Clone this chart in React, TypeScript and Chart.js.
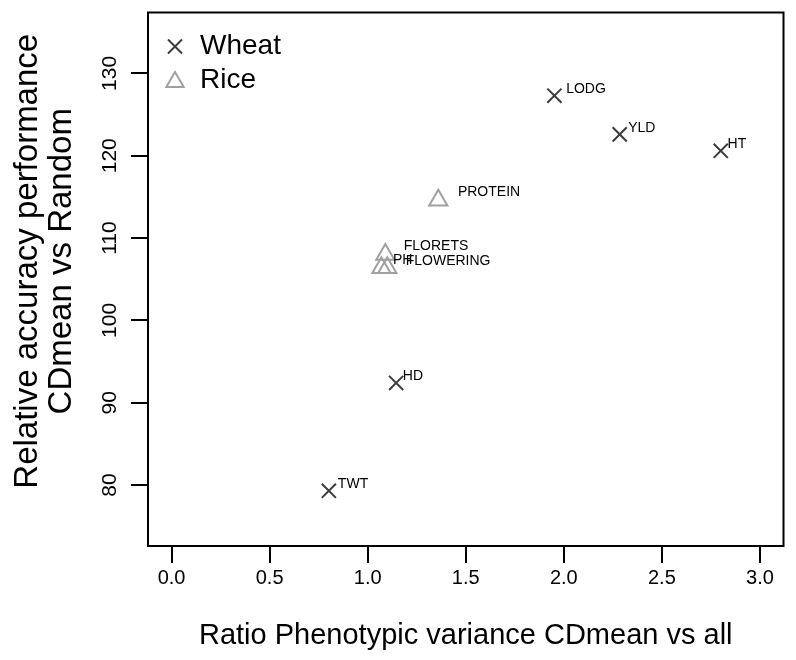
import React, { useEffect, useRef } from "react";
import { Chart, registerables } from "chart.js";

Chart.register(...registerables);

const xTicks = [0, 0.5, 1, 1.5, 2, 2.5, 3];
const yTicks = [80, 90, 100, 110, 120, 130];

const seriesNames = ["Wheat", "Rice"];

const wheatTraits = ["LODG", "YLD", "HT", "HD", "TWT"];
const wheatX = [1.952, 2.285, 2.8, 1.145, 0.802];
const wheatY = [127.3, 122.6, 120.6, 92.4, 79.3];
const wheatLabelX = [2.012, 2.328, 2.835, 1.179, 0.848];
const wheatLabelY = [128.1, 123.4, 121.4, 93.25, 80.1];

const riceTraits = ["PROTEIN", "FLORETS", "PH", "FLOWERING"];
const riceX = [1.36, 1.09, 1.07, 1.1];
const riceY = [114.6, 108.0, 106.4, 106.4];
const riceLabelX = [1.46, 1.184, 1.129, 1.194];
const riceLabelY = [115.6, 109.0, 107.3, 107.2];

const xTitle = "Ratio Phenotypic variance CDmean vs all";
const yTitle = ["Relative accuracy performance", "CDmean vs Random"];

const FONT = "'Liberation Sans', Arial, Helvetica, sans-serif";
const WHEAT_COLOR = "#3c3c3c";
const RICE_COLOR = "#a0a0a0";

const overlayPlugin = {
  id: "overlay",
  afterDraw(chart: any) {
    const { ctx, chartArea, scales } = chart;
    const xs = scales.x;
    const ys = scales.y;
    ctx.save();
    // box
    ctx.strokeStyle = "#000";
    ctx.lineWidth = 2;
    ctx.strokeRect(chartArea.left, chartArea.top, chartArea.right - chartArea.left, chartArea.bottom - chartArea.top);

    // y tick labels (rotated)
    ctx.fillStyle = "#000";
    ctx.font = `21px ${FONT}`;
    ctx.textAlign = "center";
    ctx.textBaseline = "middle";
    yTicks.forEach((v) => {
      const py = ys.getPixelForValue(v);
      ctx.save();
      ctx.translate(chartArea.left - 38, py);
      ctx.rotate(-Math.PI / 2);
      ctx.fillText(String(v), 0, 0);
      ctx.restore();
    });

    // y title (two lines, rotated)
    const midY = (chartArea.top + chartArea.bottom) / 2 - 18;
    ctx.font = `33px ${FONT}`;
    yTitle.forEach((line, i) => {
      ctx.save();
      ctx.translate(28 + i * 34, midY);
      ctx.rotate(-Math.PI / 2);
      ctx.fillText(line, 0, 0);
      ctx.restore();
    });

    // point labels
    ctx.font = `14px ${FONT}`;
    ctx.textAlign = "left";
    ctx.textBaseline = "middle";
    ctx.fillStyle = "#000";
    wheatTraits.forEach((t, i) => {
      ctx.fillText(t, xs.getPixelForValue(wheatLabelX[i]), ys.getPixelForValue(wheatLabelY[i]));
    });
    riceTraits.forEach((t, i) => {
      ctx.fillText(t, xs.getPixelForValue(riceLabelX[i]), ys.getPixelForValue(riceLabelY[i]));
    });

    // legend
    const lx = chartArea.left + 27;
    const ly1 = chartArea.top + 34;
    const ly2 = chartArea.top + 68;
    ctx.strokeStyle = WHEAT_COLOR;
    ctx.lineWidth = 2;
    const d = 7;
    ctx.beginPath();
    ctx.moveTo(lx - d, ly1 - d);
    ctx.lineTo(lx + d, ly1 + d);
    ctx.moveTo(lx + d, ly1 - d);
    ctx.lineTo(lx - d, ly1 + d);
    ctx.stroke();
    const r = 10;
    const ty = ly2 + 1.5;
    ctx.strokeStyle = RICE_COLOR;
    ctx.beginPath();
    ctx.moveTo(lx, ty - r);
    ctx.lineTo(lx + r * Math.sin((2 * Math.PI) / 3), ty + r / 2);
    ctx.lineTo(lx - r * Math.sin((2 * Math.PI) / 3), ty + r / 2);
    ctx.closePath();
    ctx.stroke();
    ctx.fillStyle = "#000";
    ctx.font = `28px ${FONT}`;
    ctx.textAlign = "left";
    ctx.textBaseline = "middle";
    ctx.fillText(seriesNames[0], lx + 25, ly1);
    ctx.fillText(seriesNames[1], lx + 25, ly2);
    ctx.restore();
  },
};

export default function App() {
  const ref = useRef<HTMLCanvasElement | null>(null);
  useEffect(() => {
    if (!ref.current) return;
    const chart = new Chart(ref.current, {
      type: "scatter",
      data: {
        datasets: [
          {
            label: seriesNames[0],
            data: wheatX.map((x, i) => ({ x, y: wheatY[i] })),
            pointStyle: "crossRot",
            pointRadius: 10,
            borderColor: WHEAT_COLOR,
            backgroundColor: WHEAT_COLOR,
            pointBorderWidth: 2,
          },
          {
            label: seriesNames[1],
            data: riceX.map((x, i) => ({ x, y: riceY[i] })),
            pointStyle: "triangle",
            pointRadius: 10.5,
            borderColor: RICE_COLOR,
            backgroundColor: "rgba(0,0,0,0)",
            pointBorderWidth: 2,
          },
        ],
      },
      options: {
        animation: false,
        responsive: false,
        devicePixelRatio: 1,
        layout: { padding: { left: 0, top: 5, right: 3, bottom: 0 } },
        plugins: { legend: { display: false }, tooltip: { enabled: false } },
        scales: {
          x: {
            type: "linear",
            position: "bottom",
            min: -0.12,
            max: 3.12,
            afterBuildTicks: (s: any) => {
              s.ticks = xTicks.map((v) => ({ value: v }));
            },
            afterFit: (s: any) => {
              s.height = 114;
            },
            grid: {
              display: true,
              drawOnChartArea: false,
              drawTicks: true,
              tickLength: 17,
              color: "#000",
              lineWidth: 2,
            },
            border: { display: false },
            ticks: {
              color: "#000",
              font: { family: FONT, size: 20 },
              padding: 3,
              maxRotation: 0,
              minRotation: 0,
              autoSkip: false,
              callback: (v: any) => Number(v).toFixed(1),
            },
            title: {
              display: true,
              text: xTitle,
              color: "#000",
              font: { family: FONT, size: 29, lineHeight: 1.2 },
              padding: { top: 0, bottom: 7 },
            },
          },
          y: {
            type: "linear",
            position: "left",
            min: 72.6,
            max: 137.4,
            afterBuildTicks: (s: any) => {
              s.ticks = yTicks.map((v) => ({ value: v }));
            },
            afterFit: (s: any) => {
              s.width = 148;
            },
            grid: {
              display: true,
              drawOnChartArea: false,
              drawTicks: true,
              tickLength: 17,
              color: "#000",
              lineWidth: 2,
            },
            border: { display: false },
            ticks: { display: false },
            title: { display: false },
          },
        },
      },
      plugins: [overlayPlugin],
    });
    return () => chart.destroy();
  }, []);
  return (
    <div style={{ position: "fixed", left: 0, top: 0, width: 796, height: 660, background: "#fff" }}>
      <canvas ref={ref} width={796} height={660} style={{ width: 796, height: 660 }} />
    </div>
  );
}
